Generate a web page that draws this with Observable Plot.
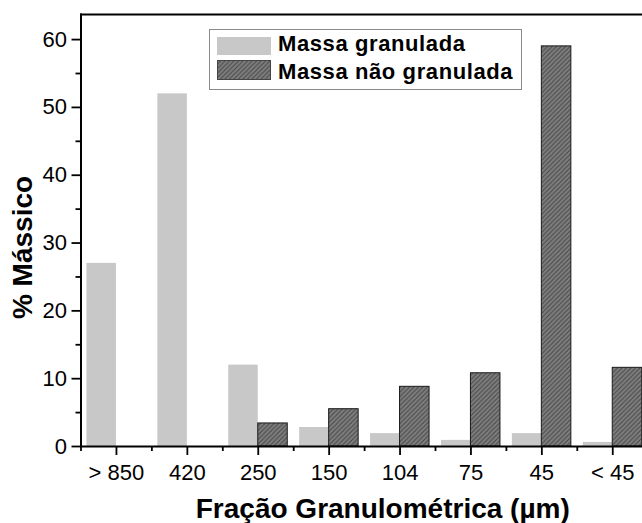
<!DOCTYPE html>
<html>
<head>
<meta charset="utf-8">
<script src="https://cdn.jsdelivr.net/npm/d3@7"></script>
<script src="https://cdn.jsdelivr.net/npm/@observablehq/plot@0.6"></script>
<style>
html, body { margin: 0; padding: 0; background: #fff; overflow: hidden; }
#wrap { position: relative; width: 642px; height: 523px; overflow: hidden; }
#legend { position: absolute; left: 209px; top: 29px; width: 311px; height: 59px;
  border: 1px solid #8a8a8a; background: #fff;
  font-family: "Liberation Sans", Arial, sans-serif; font-weight: bold; font-size: 22px; letter-spacing: 0.6px; color: #000; }
#legend .sw { position: absolute; left: 7px; }
#legend .lab { position: absolute; left: 68px; line-height: 22px; white-space: nowrap; }
</style>
</head>
<body>
<div id="wrap"></div>
<script>
// ---- data ----
const categories = ["> 850", "420", "250", "150", "104", "75", "45", "< 45"];
const granulada = [27, 52, 12, 2.8, 1.9, 0.9, 1.9, 0.6];
const naoGranulada = [null, null, 3.4, 5.5, 8.8, 10.8, 59, 11.6];
const yTicks = [0, 10, 20, 30, 40, 50, 60];
const yMinorTicks = [5, 15, 25, 35, 45, 55];
const seriesNames = ["Massa granulada", "Massa não granulada"];
const xTitle = "Fração Granulométrica (µm)";
const yTitle = "% Mássico";

// ---- layout: the category axis runs past the right edge of the view, as in the reference ----
const W = 642, H = 523, ML = 80.5, MT = 14, MB = 77;
const xRange = [ML, 647.7];
const step = (xRange[1] - xRange[0]) / categories.length;
const bw = 29.5;

const gran = categories.map((c, i) => ({cat: c, v: granulada[i]}));
const nao = categories.map((c, i) => ({cat: c, v: naoGranulada[i]})).filter(d => d.v != null);

const plot = Plot.plot({
  width: W, height: H,
  marginLeft: ML, marginRight: 0, marginTop: MT, marginBottom: MB,
  style: {fontFamily: "'Liberation Sans', Arial, sans-serif", color: "#000", background: "#fff"},
  x: {type: "band", domain: categories, range: xRange, padding: 0, round: false, label: null},
  y: {domain: [0, 63.7], label: null},
  marks: [
    Plot.barY(gran, {x: "cat", y: "v", fill: "#c8c8c8", insetLeft: step / 2 - bw, insetRight: step / 2}),
    Plot.barY(nao, {x: "cat", y: "v", fill: "url(#hatch)", stroke: "#1a1a1a", strokeWidth: 1,
      insetLeft: step / 2, insetRight: step / 2 - bw}),
    Plot.frame({anchor: "left", stroke: "#000", strokeWidth: 2}),
    Plot.frame({anchor: "top", stroke: "#000", strokeWidth: 2}),
    Plot.frame({anchor: "bottom", stroke: "#000", strokeWidth: 2}),
    Plot.axisY({ticks: yTicks, anchor: "left", tickSize: 9, tickPadding: 5, fontSize: 22, strokeWidth: 1.8, label: null}),
    Plot.axisY({ticks: yMinorTicks, anchor: "left", tickSize: 5, tickFormat: () => "", strokeWidth: 1.8, label: null}),
    Plot.axisX({anchor: "bottom", tickSize: 9, tickPadding: 9, fontSize: 22, strokeWidth: 1.8, label: null}),
    Plot.axisX({anchor: "bottom", tickSize: 5, dx: -step / 2, tickFormat: () => "", strokeWidth: 1.8, label: null}),
    Plot.text([xTitle], {frameAnchor: "bottom", textAnchor: "middle", lineAnchor: "bottom", dx: 21, dy: 71, fontSize: 28, fontWeight: "bold"}),
    Plot.text([yTitle], {frameAnchor: "left", textAnchor: "middle", rotate: -90, dx: -57.5, dy: 17, fontSize: 28, fontWeight: "bold"})
  ]
});

d3.select(plot).insert("defs", ":first-child").html(
  '<pattern id="hatch" patternUnits="userSpaceOnUse" width="4.5" height="4.5">' +
  '<rect width="4.5" height="4.5" fill="#7e7e7e"/>' +
  '<path d="M-1,1 l2,-2 M0,4.5 l4.5,-4.5 M3.5,5.5 l2,-2" stroke="#454545" stroke-width="1"/></pattern>'
);

const wrap = document.getElementById("wrap");
wrap.appendChild(plot);

const legend = document.createElement("div");
legend.id = "legend";
legend.innerHTML =
  '<svg class="sw" style="top:7px" width="54" height="18"><rect width="54" height="18" fill="#c8c8c8"/></svg>' +
  '<div class="lab" style="top:3px">' + seriesNames[0] + '</div>' +
  '<svg class="sw" style="top:30px" width="54" height="20"><rect x="0.5" y="0.5" width="53" height="19" fill="url(#hatch)" stroke="#444"/></svg>' +
  '<div class="lab" style="top:31px">' + seriesNames[1] + '</div>';
wrap.appendChild(legend);
</script>
</body>
</html>
